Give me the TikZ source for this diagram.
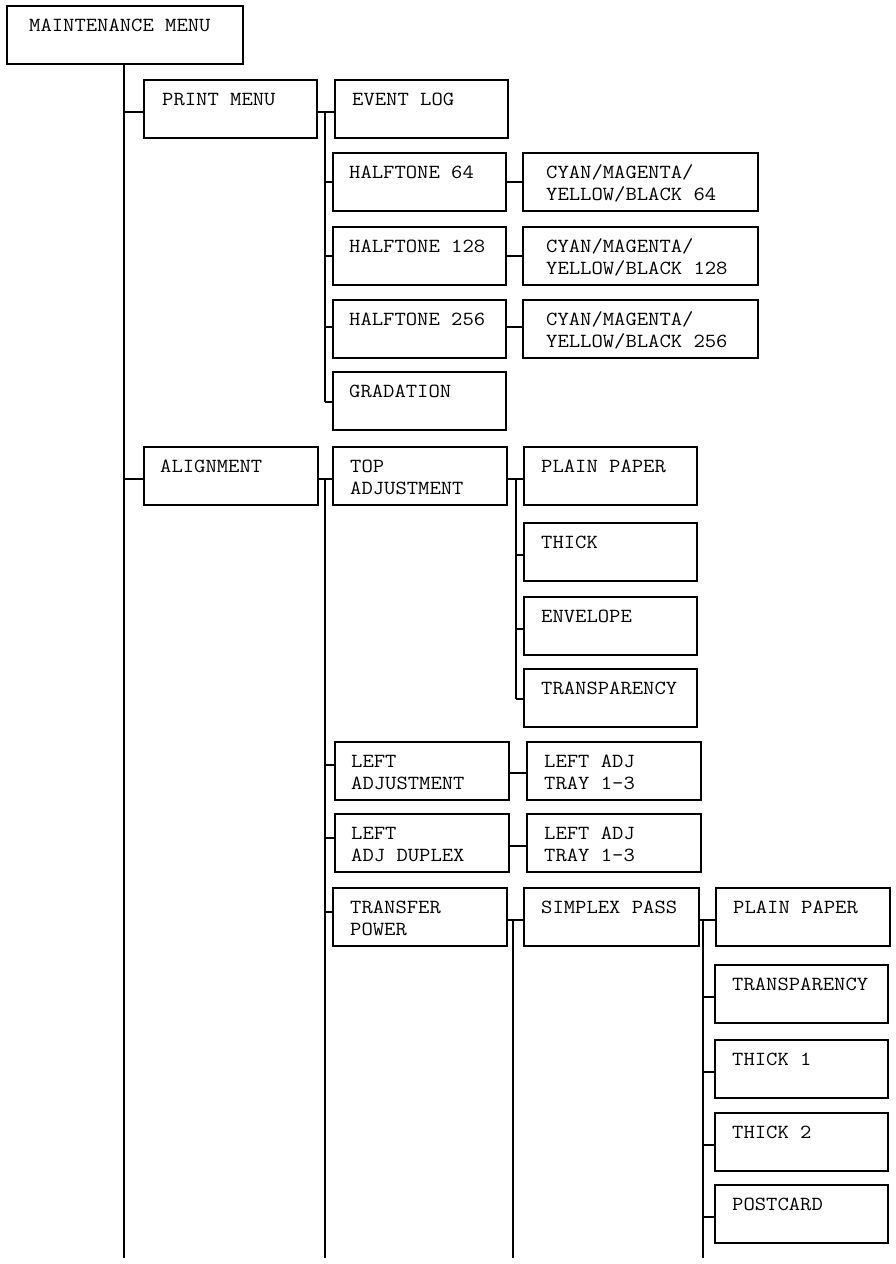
\documentclass[tikz,border=0pt]{standalone}
\usetikzlibrary{calc}
\tikzset{
  box/.style={draw, line width=2.2pt, anchor=north west, minimum height=58pt, inner sep=0pt, outer sep=0pt},
  lbl/.style={anchor=base west, inner sep=0pt, font=\fontsize{20}{22}\selectfont\ttfamily, xscale=1.1, transform shape},
  wire/.style={line width=2.2pt},
}
\newcommand\onebox[6]{%
  \node[box, minimum width=#4pt] (#1) at (#2,#3) {};
  \node[lbl] (#1t) at ($(#1.north west)+(#5,25.5)$) {#6};}
\newcommand\twobox[7]{%
  \node[box, minimum width=#4pt] (#1) at (#2,#3) {};
  \node[lbl] (#1a) at ($(#1.north west)+(#5,25.5)$) {#6};
  \node[lbl] (#1b) at ($(#1.north west)+(#5,47.5)$) {#7};}
\newcommand\stub[3]{%
  \coordinate (#2s) at ($(#2.west)+(0,#3)$);
  \draw[wire] (#2s -| #1) -- (#2s);}
\newcommand\link[3]{%
  \coordinate (#1l) at ($(#1.east)+(0,#3)$);
  \draw[wire] (#1l) -- (#1l -| #2.west);}
\begin{document}
\begin{tikzpicture}[x=1pt, y=-1pt]
\useasboundingbox (0,0) rectangle (896,1264);
% boxes
\onebox{mm}{7}{6}{236}{22}{MAINTENANCE MENU}
\onebox{pm}{144}{80}{173}{18}{PRINT MENU}
\onebox{ev}{335}{80}{173}{17}{EVENT LOG}
\onebox{ha}{333}{153}{173}{16}{HALFTONE 64}
\twobox{ca}{523}{153}{235}{23}{CYAN/MAGENTA/}{YELLOW/BLACK 64}
\onebox{hb}{333}{227}{173}{16}{HALFTONE 128}
\twobox{cb}{523}{227}{235}{23}{CYAN/MAGENTA/}{YELLOW/BLACK 128}
\onebox{hc}{333}{300}{173}{16}{HALFTONE 256}
\twobox{cc}{523}{300}{235}{23}{CYAN/MAGENTA/}{YELLOW/BLACK 256}
\onebox{gr}{333}{372}{173}{16}{GRADATION}
\onebox{al}{144}{447}{174}{16}{ALIGNMENT}
\twobox{ta}{333}{447}{174}{17}{TOP}{ADJUSTMENT}
\onebox{ppa}{524}{447}{173}{17}{PLAIN PAPER}
\onebox{tk}{524}{523}{173}{17}{THICK}
\onebox{en}{524}{597}{173}{17}{ENVELOPE}
\onebox{tra}{524}{669}{173}{17}{TRANSPARENCY}
\twobox{la}{335}{742}{174}{16}{LEFT}{ADJUSTMENT}
\twobox{lta}{527}{742}{174}{17}{LEFT ADJ}{TRAY 1-3}
\twobox{ld}{335}{814}{174}{16}{LEFT}{ADJ DUPLEX}
\twobox{ltb}{527}{814}{174}{17}{LEFT ADJ}{TRAY 1-3}
\twobox{tp}{333}{888}{174}{17}{TRANSFER}{POWER}
\onebox{sp}{524}{888}{175}{17}{SIMPLEX PASS}
\onebox{ppb}{716}{888}{174}{17}{PLAIN PAPER}
\onebox{trb}{715}{965}{173}{17}{TRANSPARENCY}
\onebox{tka}{715}{1040}{173}{17}{THICK 1}
\onebox{tkb}{715}{1113}{173}{17}{THICK 2}
\onebox{pc}{715}{1185}{173}{17}{POSTCARD}
% main trunk
\coordinate (e0) at (124,1258);
\draw[wire] (mm.south -| e0) -- (e0);
\stub{e0}{pm}{3}
\stub{e0}{al}{3}
% print menu branch
\coordinate (j1) at (325,0);
\link{pm}{ev}{3}
\stub{j1}{ha}{0}
\stub{j1}{hb}{0}
\stub{j1}{hc}{-2}
\stub{j1}{gr}{1}
\draw[wire] (pml -| j1) -- (grs -| j1);
\link{ha}{ca}{0}
\link{hb}{cb}{0}
\link{hc}{cc}{-2}
% alignment branch
\coordinate (e1) at (325,1258);
\link{al}{ta}{3}
\draw[wire] (all -| e1) -- (e1);
\stub{e1}{la}{-6}
\stub{e1}{ld}{-5}
\stub{e1}{tp}{-5}
\coordinate (j3) at (516,0);
\link{ta}{ppa}{3}
\stub{j3}{tk}{3}
\stub{j3}{en}{3}
\stub{j3}{tra}{1}
\draw[wire] (tal -| j3) -- (tras -| j3);
\link{la}{lta}{2}
\link{ld}{ltb}{3}
% transfer power branch
\coordinate (e2) at (513,1258);
\link{tp}{sp}{3}
\draw[wire] (tpl -| e2) -- (e2);
\coordinate (e3) at (703,1258);
\link{sp}{ppb}{3}
\draw[wire] (spl -| e3) -- (e3);
\stub{e3}{trb}{3}
\stub{e3}{tka}{3}
\stub{e3}{tkb}{3}
\stub{e3}{pc}{3}
\end{tikzpicture}
\end{document}
